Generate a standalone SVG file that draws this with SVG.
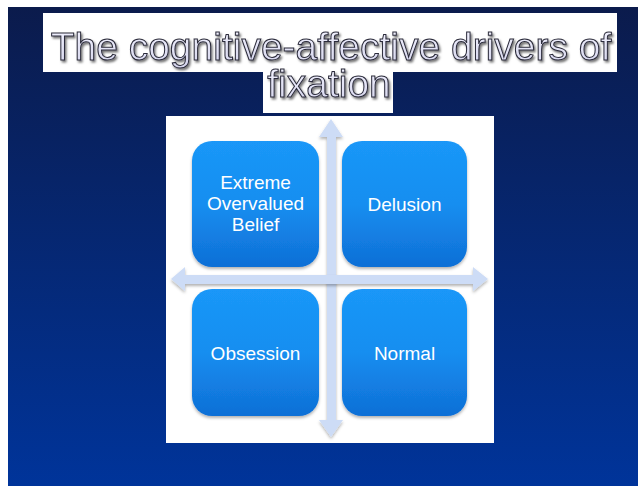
<svg xmlns="http://www.w3.org/2000/svg" width="640" height="486" viewBox="0 0 640 486">
  <defs>
    <linearGradient id="bg" x1="0" y1="0" x2="0" y2="1">
      <stop offset="0" stop-color="#0b1b4c"/>
      <stop offset="1" stop-color="#00349a"/>
    </linearGradient>
    <linearGradient id="box" x1="0" y1="0" x2="0" y2="1">
      <stop offset="0" stop-color="#1a97f8"/>
      <stop offset="0.5" stop-color="#168ef0"/>
      <stop offset="1" stop-color="#0f6fd6"/>
    </linearGradient>
    <linearGradient id="ttl" x1="0" y1="0" x2="0" y2="1">
      <stop offset="0" stop-color="#f4f4ff"/>
      <stop offset="1" stop-color="#d4d4ec"/>
    </linearGradient>
    <filter id="sh" x="-10%" y="-10%" width="130%" height="130%">
      <feDropShadow dx="0" dy="2" stdDeviation="1.5" flood-color="#000" flood-opacity="0.3"/>
    </filter>
    <filter id="tsh" x="-5%" y="-20%" width="110%" height="150%">
      <feDropShadow dx="1.5" dy="2" stdDeviation="0.8" flood-color="#000" flood-opacity="0.55"/>
    </filter>
  </defs>
  <style>
    .title { font-family: "Liberation Sans", Arial, sans-serif; font-size: 39px; fill: url(#ttl); stroke: #2b2b3a; stroke-width: 1; text-anchor: middle; filter: url(#tsh); }
    .box { fill: url(#box); filter: url(#sh); }
    .lbl { font-family: "Liberation Sans", Arial, sans-serif; font-size: 19px; fill: #ffffff; text-anchor: middle; }
    .arrow { fill: #cddcf6; filter: url(#sh); }
  </style>
  <rect x="0" y="0" width="640" height="486" fill="#ffffff"/>
  <rect x="8" y="7" width="630" height="479" fill="url(#bg)"/>

  <g id="title">
    <rect x="43" y="13" width="574" height="59" fill="#ffffff"/>
    <rect x="263" y="71" width="130" height="42" fill="#ffffff"/>
    <text class="title" x="331" y="60">The cognitive-affective drivers of</text>
    <text class="title" x="329" y="97">fixation</text>
  </g>

  <g id="panel">
    <rect x="166" y="116" width="328" height="327" fill="#ffffff"/>
  </g>

  <g id="connectors">
    <polygon class="arrow" points="331,119 343,137 336,137 336,420 343,420 331,437 319,420 327,420 327,137 319,137"/>
    <polygon class="arrow" points="171,279 185,267 185,275 473,275 473,267 488,279 473,291 473,284 185,284 185,291"/>
  </g>

  <g id="node-extreme">
    <rect class="box" x="192" y="141" width="127" height="126" rx="20"/>
    <text class="lbl" x="255.5" y="189">Extreme</text>
    <text class="lbl" x="255.5" y="210">Overvalued</text>
    <text class="lbl" x="255.5" y="231">Belief</text>
  </g>
  <g id="node-delusion">
    <rect class="box" x="342" y="141" width="125" height="126" rx="20"/>
    <text class="lbl" x="404.5" y="211">Delusion</text>
  </g>
  <g id="node-obsession">
    <rect class="box" x="192" y="289" width="127" height="127" rx="20"/>
    <text class="lbl" x="255.5" y="360">Obsession</text>
  </g>
  <g id="node-normal">
    <rect class="box" x="342" y="289" width="125" height="127" rx="20"/>
    <text class="lbl" x="404.5" y="360">Normal</text>
  </g>
</svg>
